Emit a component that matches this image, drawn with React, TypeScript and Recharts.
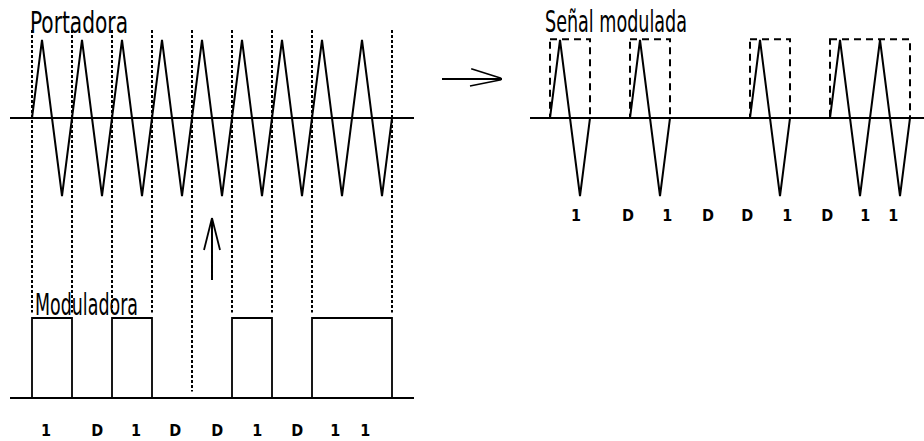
import {
  ComposedChart,
  Line,
  XAxis,
  YAxis,
  ReferenceLine,
  ReferenceArea,
  ReferenceDot,
} from "recharts";

// bit sequence carried by the modulating signal
const BITS = [1, 0, 1, 0, 0, 1, 0, 1, 1];
const BIT_TEXT = ["D", "1"];
// where the bit labels sit, in periods from the first edge
const LEFT_LABEL_T = [0.35, 1.63, 2.6, 3.58, 4.63, 5.63, 6.63, 7.58, 8.33];
const RIGHT_LABEL_T = [0.65, 1.95, 2.93, 3.95, 4.93, 5.93, 6.93, 7.88, 8.58];
// one triangle period: zero, peak, trough, zero
const PEAK_PHASE = 0.25;
const TROUGH_PHASE = 0.75;
const PEAK = 1;
const TROUGH = -1;

const W = 924;
const H = 441;
const INK = "#000";
const TITLE_FONT = "'Liberation Sans Narrow', 'DejaVu Sans Condensed', sans-serif";

// carrier: triangle wave over every period
const carrier = [{ t: 0, v: 0 }];
BITS.forEach((_, i) => {
  carrier.push({ t: i + PEAK_PHASE, v: PEAK }, { t: i + TROUGH_PHASE, v: TROUGH });
});
carrier.push({ t: BITS.length, v: 0 });

// modulated: carrier only where the bit is 1
const modulated = [{ t: 0, v: 0 }];
BITS.forEach((b, i) => {
  if (b) modulated.push({ t: i + PEAK_PHASE, v: PEAK }, { t: i + TROUGH_PHASE, v: TROUGH });
  modulated.push({ t: i + 1, v: 0 });
});

// modulating square wave
const modulator = [{ t: 0, v: 0 }, ...BITS.map((b, i) => ({ t: i, v: b })), { t: BITS.length, v: 0 }];

// runs of consecutive ones -> rectangles
const runs: [number, number][] = [];
let start: number | null = null;
BITS.forEach((b, i) => {
  if (b && start === null) start = i;
  if (!b && start !== null) {
    runs.push([start, i]);
    start = null;
  }
});
if (start !== null) runs.push([start, BITS.length]);
const edges = Array.from(new Set(runs.flat()));

// pixel layout of the axes (x0 + step * t, zero - amp * v)
const LX0 = 32;
const RX0 = 550;
const STEP = 40;
const CZERO = 118;
const CAMP = 78;
const MZERO = 398;
const MAMP = 80;

const lDomain = [-LX0 / STEP, (W - LX0) / STEP];
const rDomain = [-RX0 / STEP, (W - RX0) / STEP];
const cDomain = [(CZERO - H) / CAMP, CZERO / CAMP];
const mDomain = [(MZERO - H) / MAMP, MZERO / MAMP];

const Title = ({ x, y, w, children }: { x: number; y: number; w: number; children: string }) => (
  <text
    x={x}
    y={y}
    fontFamily={TITLE_FONT}
    fontSize={31}
    fill={INK}
    textLength={w}
    lengthAdjust="spacingAndGlyphs"
  >
    {children}
  </text>
);

const bitLabel = (text: string) => ({
  value: text,
  position: "center" as const,
  fill: INK,
  fontSize: 16,
  fontWeight: 700,
  fontFamily: TITLE_FONT,
});

export default function App() {
  return (
    <div style={{ position: "absolute", left: 0, top: 0, background: "#fff" }}>
      <ComposedChart width={W} height={H} margin={{ top: 0, right: 0, bottom: 0, left: 0 }}>
        <XAxis xAxisId="L" dataKey="t" type="number" domain={lDomain} allowDataOverflow hide />
        <XAxis xAxisId="R" dataKey="t" type="number" domain={rDomain} allowDataOverflow hide />
        <YAxis yAxisId="C" type="number" domain={cDomain} allowDataOverflow hide />
        <YAxis yAxisId="M" type="number" domain={mDomain} allowDataOverflow hide />

        {/* guide lines from carrier down to the modulator */}
        {edges.map((t) => (
          <ReferenceLine
            key={`g${t}`}
            xAxisId="L"
            yAxisId="M"
            segment={[{ x: t, y: 4.6 }, { x: t, y: 1.07 }]}
            stroke={INK}
            strokeWidth={2}
            strokeDasharray="3 2"
          />
        ))}
        <ReferenceLine
          xAxisId="L"
          yAxisId="M"
          segment={[{ x: 4, y: 4.6 }, { x: 4, y: 0.08 }]}
          stroke={INK}
          strokeWidth={2}
          strokeDasharray="3 2"
        />

        {/* zero lines */}
        <ReferenceLine xAxisId="L" yAxisId="C" segment={[{ x: -0.55, y: 0 }, { x: 9.55, y: 0 }]} stroke={INK} strokeWidth={1.8} />
        <ReferenceLine xAxisId="L" yAxisId="M" segment={[{ x: -0.55, y: 0 }, { x: 9.55, y: 0 }]} stroke={INK} strokeWidth={1.8} />
        <ReferenceLine xAxisId="R" yAxisId="C" segment={[{ x: -0.5, y: 0 }, { x: 9.35, y: 0 }]} stroke={INK} strokeWidth={1.8} />

        {/* dashed envelopes on the modulated signal */}
        {runs.map(([a, b]) => (
          <ReferenceArea
            key={`r${a}`}
            xAxisId="R"
            yAxisId="C"
            x1={a}
            x2={b}
            y1={0}
            y2={1.01}
            fill="none"
            fillOpacity={0}
            stroke={INK}
            strokeWidth={2}
            strokeDasharray="7 5"
          />
        ))}

        <Line xAxisId="L" yAxisId="C" data={carrier} dataKey="v" type="linear" stroke={INK} strokeWidth={2} dot={false} isAnimationActive={false} />
        <Line xAxisId="L" yAxisId="M" data={modulator} dataKey="v" type="stepAfter" stroke={INK} strokeWidth={1.8} dot={false} isAnimationActive={false} />
        <Line xAxisId="R" yAxisId="C" data={modulated} dataKey="v" type="linear" stroke={INK} strokeWidth={2} dot={false} isAnimationActive={false} />

        {/* up arrow */}
        <ReferenceLine xAxisId="L" yAxisId="M" segment={[{ x: 4.5, y: 1.475 }, { x: 4.5, y: 2.25 }]} stroke={INK} strokeWidth={2} />
        <ReferenceLine xAxisId="L" yAxisId="M" segment={[{ x: 4.3, y: 1.85 }, { x: 4.5, y: 2.25 }]} stroke={INK} strokeWidth={1.8} />
        <ReferenceLine xAxisId="L" yAxisId="M" segment={[{ x: 4.7, y: 1.85 }, { x: 4.5, y: 2.25 }]} stroke={INK} strokeWidth={1.8} />

        {/* right arrow */}
        <ReferenceLine xAxisId="R" yAxisId="C" segment={[{ x: -2.7, y: 0.5 }, { x: -1.2, y: 0.5 }]} stroke={INK} strokeWidth={1.8} />
        <ReferenceLine xAxisId="R" yAxisId="C" segment={[{ x: -1.97, y: 0.63 }, { x: -1.22, y: 0.51 }]} stroke={INK} strokeWidth={1.6} />
        <ReferenceLine xAxisId="R" yAxisId="C" segment={[{ x: -2.0, y: 0.41 }, { x: -1.22, y: 0.49 }]} stroke={INK} strokeWidth={1.6} />

        {/* bit labels */}
        {BITS.map((b, i) => (
          <ReferenceDot key={`lb${i}`} xAxisId="L" yAxisId="M" x={LEFT_LABEL_T[i]} y={-0.41} r={0} fill="none" stroke="none" label={bitLabel(BIT_TEXT[b])} />
        ))}
        {BITS.map((b, i) => (
          <ReferenceDot key={`rb${i}`} xAxisId="R" yAxisId="C" x={RIGHT_LABEL_T[i]} y={-1.244} r={0} fill="none" stroke="none" label={bitLabel(BIT_TEXT[b])} />
        ))}

        <Title x={30} y={33} w={98}>Portadora</Title>
        <Title x={35} y={315} w={103}>Moduladora</Title>
        <Title x={545} y={32} w={142}>Señal modulada</Title>
      </ComposedChart>
    </div>
  );
}
